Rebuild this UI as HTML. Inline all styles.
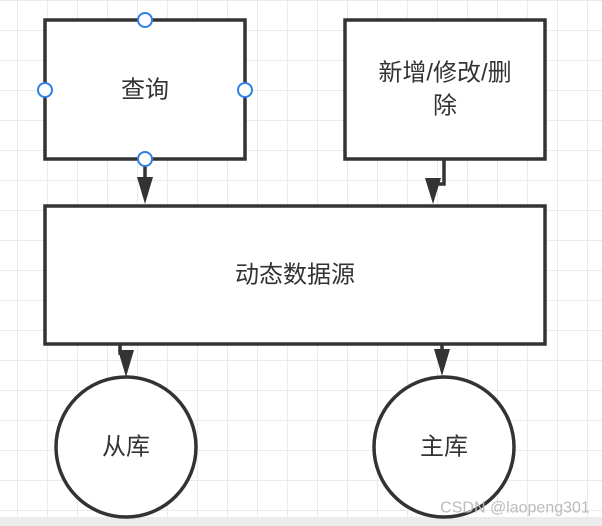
<!DOCTYPE html>
<html><head><meta charset="utf-8"><style>
html,body{margin:0;padding:0;background:#fff;}
svg{display:block}
text{font-family:"Liberation Sans","Noto Sans CJK SC",sans-serif;fill:#333;font-size:24px;text-anchor:middle;dominant-baseline:central}
</style></head><body>
<svg width="602" height="526" viewBox="0 0 602 526" xmlns="http://www.w3.org/2000/svg">
<defs><pattern id="g" x="17" y="0" width="30" height="30" patternUnits="userSpaceOnUse">
<path d="M0 0V30M0 0H30" stroke="#ebebeb" stroke-width="2" fill="none"/></pattern></defs>
<rect width="602" height="526" fill="url(#g)"/>
<rect x="0" y="517" width="602" height="9" fill="#ececec"/>
<g stroke="#333" stroke-width="3.5" fill="#fff">
<rect x="45" y="20" width="200" height="139"/>
<rect x="345" y="20" width="200" height="139"/>
<rect x="45" y="206" width="500" height="138"/>
<circle cx="126" cy="447" r="70"/>
<circle cx="444" cy="447" r="70"/>
</g>
<g stroke="#333" stroke-width="3.5" fill="none">
<path d="M145 160V180"/>
<path d="M444 160V184H433V182"/>
<path d="M120 345V353H126V355"/>
<path d="M442 345V352"/>
</g>
<g fill="#333">
<path d="M137 177H153L145 204Z"/>
<path d="M425 178H441L433 204Z"/>
<path d="M118 350H134L126 377Z"/>
<path d="M434 349H450L442 376Z"/>
</g>
<g fill="#fff" stroke="#2f7fe6" stroke-width="2">
<circle cx="145" cy="20" r="7"/><circle cx="45" cy="90" r="7"/>
<circle cx="245" cy="90" r="7"/><circle cx="145" cy="159" r="7"/>
</g>
<text x="145" y="90">查询</text>
<text x="445" y="73">新增/修改/删</text>
<text x="445" y="106">除</text>
<text x="295" y="275">动态数据源</text>
<text x="126" y="447">从库</text>
<text x="444" y="447">主库</text>
<text x="515" y="508" style="font-size:16px;fill:#bbb">CSDN @laopeng301</text>
</svg>
</body></html>
